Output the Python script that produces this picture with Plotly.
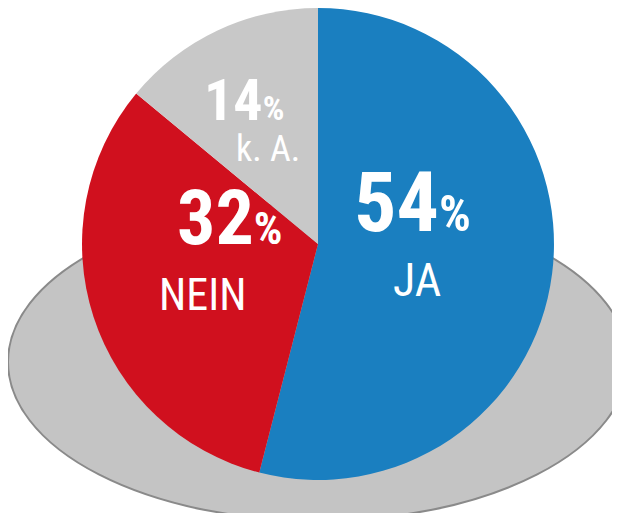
import plotly.graph_objects as go

labels = ["JA", "NEIN", "k. A."]
values = [54, 32, 14]
colors = ["#1a7fc0", "#d0101e", "#c8c8c8"]
num_pos = [(0.75, 0.62), (0.27, 0.59), (0.38, 0.89)]
lab_pos = [(0.66, 0.47), (0.24, 0.44), (0.42, 0.77)]
font_sizes = [(84, 46), (76, 44), (58, 36)]

fig = go.Figure()
fig.add_shape(type="circle", xref="paper", yref="paper", x0=0.0, x1=1.0, y0=0.0, y1=0.62,
              fillcolor="#c4c4c4", line=dict(color="#8a8a8a", width=2), layer="below")
fig.add_trace(go.Pie(
    labels=labels, values=values, sort=False, direction="clockwise", rotation=0,
    marker=dict(colors=colors, line=dict(color="white", width=0)),
    textposition="none", showlegend=False,
    domain=dict(x=[0.0, 1.0], y=[0.08, 1.0]),
))
fam = "Liberation Sans Narrow, Roboto Condensed, Roboto"
for lab, v, (x, y), (lx, ly), (s1, s2) in zip(labels, values, num_pos, lab_pos, font_sizes):
    fig.add_annotation(xref="paper", yref="paper", x=x, y=y, showarrow=False,
                       text=f"<b>{v}<span style='font-size:{int(s1*0.6)}px'>%</span></b>",
                       font=dict(color="white", family=fam, size=s1))
    fig.add_annotation(xref="paper", yref="paper", x=lx, y=ly, showarrow=False,
                       text=lab, font=dict(color="white", family=fam, size=s2))
fig.update_layout(width=620, height=513, margin=dict(l=0, r=0, t=0, b=0),
                  paper_bgcolor="white", plot_bgcolor="white")
fig.write_html("out.html")
